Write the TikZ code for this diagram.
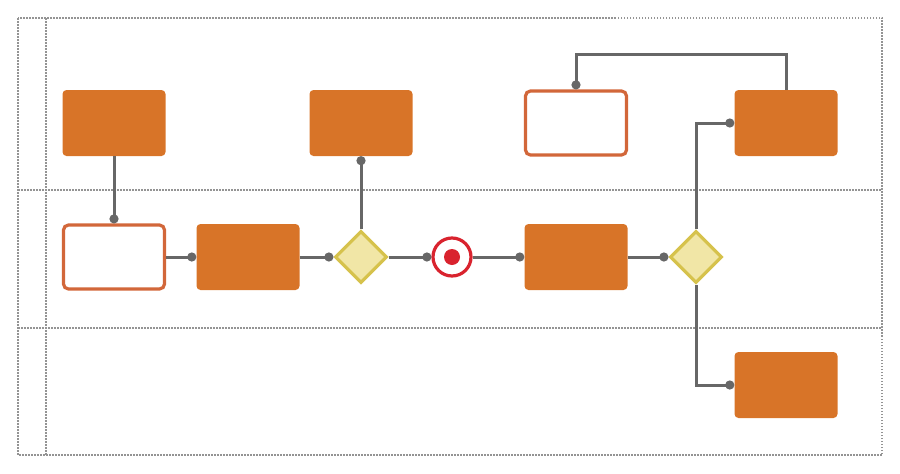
\documentclass[tikz,border=0pt]{standalone}
\usetikzlibrary{arrows.meta,shapes.geometric}
\definecolor{org}{HTML}{D87428}
\definecolor{borg}{HTML}{D2673A}
\definecolor{evred}{HTML}{D9232E}
\definecolor{gfill}{HTML}{F1E6A6}
\definecolor{gdraw}{HTML}{D6C24C}
\definecolor{conng}{HTML}{676767}
\definecolor{laneg}{HTML}{949494}
\begin{document}
\begin{tikzpicture}[x=1pt,y=-1pt,
  lane/.style={draw=laneg, line width=1.1pt, dash pattern=on 1.5pt off 1.5pt},
  task/.style={rectangle, rounded corners=4pt, fill=org, minimum width=103pt, minimum height=66pt, inner sep=0pt},
  wbox/.style={rectangle, rounded corners=5pt, draw=borg, line width=3.2pt, fill=white, minimum width=101pt, minimum height=64pt, inner sep=0pt},
  gate/.style={diamond, draw=gdraw, fill=gfill, line width=3.2pt, minimum size=52pt, inner sep=0pt},
  event/.style={circle, draw=evred, fill=white, line width=3.2pt, minimum size=38pt, inner sep=0pt},
  conn/.style={draw=conng, line width=3pt, -{Circle[length=9pt,width=9pt]}}]
\useasboundingbox (0,0) rectangle (900,474);
\draw[lane] (18,18) rectangle (882,455);
\draw[lane] (46,18) -- (46,455);
\draw[lane] (18,190) -- (882,190);
\draw[lane] (18,328) -- (882,328);

\node[task] (A) at (114,123) {};
\node[task] (B) at (361,123) {};
\node[wbox] (C) at (576,123) {};
\node[task] (D) at (786,123) {};
\node[wbox] (E) at (114,257) {};
\node[task] (F) at (248,257) {};
\node[gate] (G) at (361,257) {};
\node[event] (H) at (452,257) {};
\fill[evred] (H.center) circle (8pt);
\node[task] (I) at (576,257) {};
\node[gate] (J) at (696,257) {};
\node[task] (K) at (786,385) {};

\draw[conn] (A.south) -- (E.north);
\draw[conn] (E.east) -- (F.west);
\draw[conn] (F.east) -- (G.west);
\draw[conn] (G.north) -- (B.south);
\draw[conn] (G.east) -- (H.west);
\draw[conn] (H.east) -- (I.west);
\draw[conn] (I.east) -- (J.west);
\draw[conn] (J.north) |- (D.west);
\draw[conn] (J.south) |- (K.west);
\draw[conn] (D.north) -- ++(0,-35) -| (C.north);
\end{tikzpicture}
\end{document}
